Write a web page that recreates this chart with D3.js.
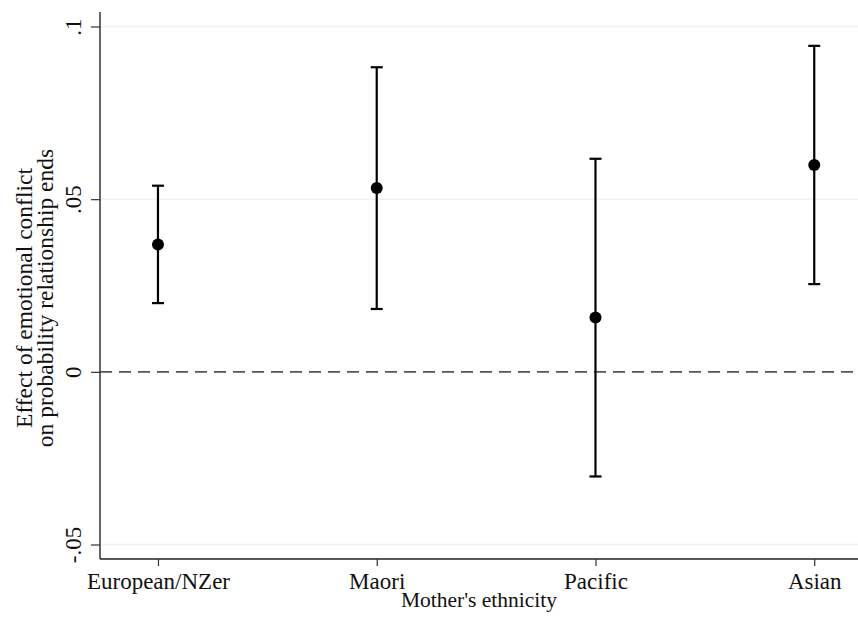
<!DOCTYPE html>
<html>
<head>
<meta charset="utf-8">
<script src="https://cdn.jsdelivr.net/npm/d3@7/dist/d3.min.js"></script>
<style>
  html, body { margin: 0; padding: 0; background: #fff; }
  svg { display: block; font-family: "Liberation Serif", "Times New Roman", serif; }
</style>
</head>
<body>
<svg id="chart" width="858" height="619"></svg>
<script>
// Marginal effects by mother's ethnicity, with 95% confidence intervals
const categories = ["European/NZer", "Maori", "Pacific", "Asian"];
const estimates  = [0.0369, 0.0532, 0.0157, 0.0599];
const lowerCI    = [0.0199, 0.0182, -0.0303, 0.0254];
const upperCI    = [0.0539, 0.0882, 0.0617, 0.0944];
const yTickValues = [-0.05, 0, 0.05, 0.1];
const yTickLabels = ["-.05", "0", ".05", ".1"];

const svg = d3.select("#chart");
const plotLeft = 100, plotRight = 858, plotTop = 12, plotBottom = 559;
const fontFamily = "Liberation Serif, Times New Roman, serif";

const x = d3.scaleLinear().domain([0.735, 4.2]).range([plotLeft, plotRight]);
const y = d3.scaleLinear().domain([-0.0542, 0.1042]).range([plotBottom, plotTop]);

// horizontal grid lines
svg.append("g").selectAll("line")
  .data(yTickValues.filter(v => v !== 0))
  .join("line")
  .attr("x1", plotLeft).attr("x2", plotRight)
  .attr("y1", d => y(d)).attr("y2", d => y(d))
  .attr("stroke", "#eaf2f3").attr("stroke-width", 1.5);

// reference line at zero
svg.append("line")
  .attr("x1", plotLeft).attr("x2", plotRight)
  .attr("y1", y(0)).attr("y2", y(0))
  .attr("stroke", "#555").attr("stroke-width", 1.6)
  .attr("stroke-dasharray", "12,7");

// y axis
const yAxis = d3.axisLeft(y)
  .tickValues(yTickValues)
  .tickFormat((d, i) => yTickLabels[i])
  .tickSize(9).tickPadding(10);
const gy = svg.append("g").attr("transform", `translate(${plotLeft},0)`).call(yAxis);
gy.select(".domain").attr("d", `M0,${plotTop}V${plotBottom}`).attr("stroke", "#333").attr("stroke-width", 1.5);
gy.selectAll(".tick line").attr("stroke", "#333").attr("stroke-width", 1.2);
gy.selectAll(".tick text")
  .attr("font-family", fontFamily)
  .attr("font-size", 23).attr("fill", "#111")
  .attr("transform", "rotate(-90)")
  .attr("x", 0).attr("y", -19)
  .attr("dy", 0)
  .attr("text-anchor", "middle");

// x axis
const xAxis = d3.axisBottom(x)
  .tickValues([1, 2, 3, 4])
  .tickFormat((d, i) => categories[i])
  .tickSize(7).tickPadding(4);
const gx = svg.append("g").attr("transform", `translate(0,${plotBottom})`).call(xAxis);
gx.select(".domain").attr("d", `M${plotLeft},0H${plotRight}`).attr("stroke", "#222").attr("stroke-width", 1.5);
gx.selectAll(".tick line").attr("stroke", "#333").attr("stroke-width", 1.2);
gx.selectAll(".tick text")
  .attr("font-family", fontFamily)
  .attr("font-size", 23).attr("fill", "#111")
  .attr("y", 30).attr("dy", 0);

// axis titles
svg.append("text")
  .attr("x", (plotLeft + plotRight) / 2).attr("y", 607)
  .attr("text-anchor", "middle")
  .attr("font-family", fontFamily)
  .attr("font-size", 21.5).attr("fill", "#111")
  .text("Mother's ethnicity");

const yTitle = svg.append("text")
  .attr("transform", "translate(0,298) rotate(-90)")
  .attr("text-anchor", "middle")
  .attr("font-family", fontFamily)
  .attr("font-size", 23.5).attr("fill", "#111");
yTitle.append("tspan").attr("x", 0).attr("y", 32).text("Effect of emotional conflict");
yTitle.append("tspan").attr("x", 0).attr("y", 53).text("on probability relationship ends");

// confidence intervals
const idx = d3.range(categories.length);
const bars = svg.append("g");
bars.selectAll("line.ci")
  .data(idx).join("line").attr("class", "ci")
  .attr("x1", i => x(i + 1)).attr("x2", i => x(i + 1))
  .attr("y1", i => y(lowerCI[i])).attr("y2", i => y(upperCI[i]))
  .attr("stroke", "#000").attr("stroke-width", 2.2);
bars.selectAll("line.capTop")
  .data(idx).join("line").attr("class", "capTop")
  .attr("x1", i => x(i + 1) - 6).attr("x2", i => x(i + 1) + 6)
  .attr("y1", i => y(upperCI[i])).attr("y2", i => y(upperCI[i]))
  .attr("stroke", "#000").attr("stroke-width", 2.2);
bars.selectAll("line.capBot")
  .data(idx).join("line").attr("class", "capBot")
  .attr("x1", i => x(i + 1) - 6).attr("x2", i => x(i + 1) + 6)
  .attr("y1", i => y(lowerCI[i])).attr("y2", i => y(lowerCI[i]))
  .attr("stroke", "#000").attr("stroke-width", 2.2);

// point estimates
svg.append("g").selectAll("circle")
  .data(idx).join("circle")
  .attr("cx", i => x(i + 1)).attr("cy", i => y(estimates[i]))
  .attr("r", 6).attr("fill", "#000");
</script>
</body>
</html>
